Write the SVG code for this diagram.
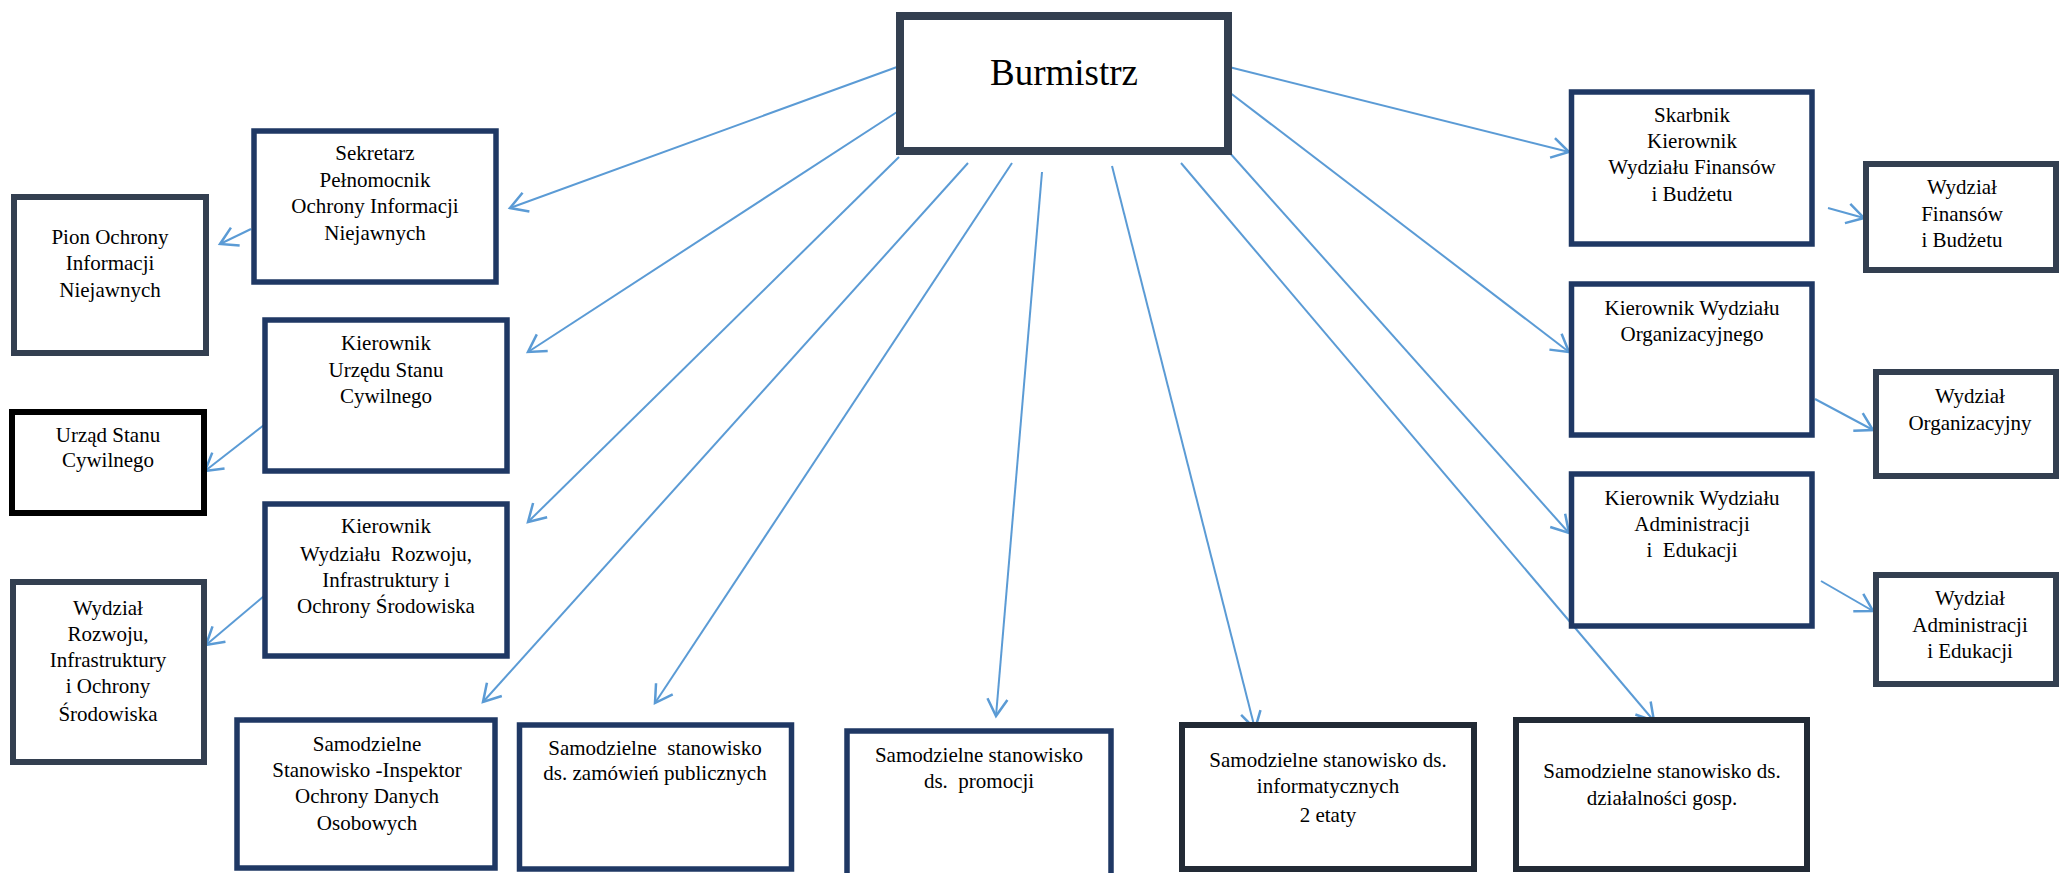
<svg xmlns="http://www.w3.org/2000/svg" width="2062" height="873" viewBox="0 0 2062 873">
<style>
.box{fill:#ffffff;}
.blue{stroke:#1f3864;stroke-width:5.5;}
.slate{stroke:#333f50;stroke-width:6;}
.dark{stroke:#222a35;stroke-width:6;}
.black{stroke:#000000;stroke-width:6;}
text{font-family:"Liberation Serif","Times New Roman",serif;font-size:21px;fill:#000000;text-anchor:middle;}
.big{font-size:37px;}
.conn line{stroke:#5b9bd5;stroke-width:2;marker-end:url(#arr);}
</style>
<defs>
<marker id="arr" markerUnits="userSpaceOnUse" viewBox="-22 -13 26 26" refX="0" refY="0" markerWidth="26" markerHeight="26" orient="auto">
<path d="M-17,-10 L0,0 L-17,10" fill="none" stroke="#5b9bd5" stroke-width="2.5" stroke-linejoin="miter"/>
</marker>
</defs>
<rect width="2062" height="873" fill="#ffffff"/>

<g id="connectors" class="conn">
<line x1="897" y1="67" x2="510" y2="208"/>
<line x1="897" y1="112" x2="528" y2="352"/>
<line x1="899" y1="157" x2="528" y2="522"/>
<line x1="968" y1="163" x2="483" y2="702"/>
<line x1="1012" y1="163" x2="655" y2="703"/>
<line x1="1042" y1="172" x2="996" y2="716"/>
<line x1="1112" y1="166" x2="1255" y2="729"/>
<line x1="1181" y1="163" x2="1654" y2="721"/>
<line x1="1229" y1="152" x2="1569" y2="533"/>
<line x1="1229" y1="92" x2="1569" y2="352"/>
<line x1="1229" y1="67" x2="1569" y2="152"/>
<line x1="251" y1="229" x2="220" y2="244"/>
<line x1="264" y1="425" x2="205" y2="471"/>
<line x1="264" y1="596" x2="206" y2="645"/>
<line x1="1828" y1="208" x2="1864" y2="218"/>
<line x1="1815" y1="399" x2="1873" y2="430"/>
<line x1="1821" y1="581" x2="1873" y2="611"/>
</g>

<g id="burmistrz">
<rect class="box" x="900" y="16" width="328" height="135" stroke="#333f50" stroke-width="8"/>
<text class="big" x="1064" y="85">Burmistrz</text>
</g>

<g id="sekretarz">
<rect class="box blue" x="254" y="131" width="242" height="151"/>
<text x="375" y="160">Sekretarz</text>
<text x="375" y="187">Pełnomocnik</text>
<text x="375" y="213">Ochrony Informacji</text>
<text x="375" y="240">Niejawnych</text>
</g>

<g id="pion">
<rect class="box slate" x="14" y="197" width="192" height="156"/>
<text x="110" y="244">Pion Ochrony</text>
<text x="110" y="270">Informacji</text>
<text x="110" y="297">Niejawnych</text>
</g>

<g id="kier-usc">
<rect class="box blue" x="265" y="320" width="242" height="151"/>
<text x="386" y="350">Kierownik</text>
<text x="386" y="377">Urzędu Stanu</text>
<text x="386" y="403">Cywilnego</text>
</g>

<g id="usc">
<rect class="box black" x="12" y="412" width="192" height="101"/>
<text x="108" y="442">Urząd Stanu</text>
<text x="108" y="467">Cywilnego</text>
</g>

<g id="kier-rozwoju">
<rect class="box blue" x="265" y="504" width="242" height="152"/>
<text x="386" y="533">Kierownik</text>
<text x="386" y="561" xml:space="preserve">Wydziału  Rozwoju,</text>
<text x="386" y="587">Infrastruktury i</text>
<text x="386" y="613">Ochrony Środowiska</text>
</g>

<g id="wydzial-rozwoju">
<rect class="box slate" x="13" y="582" width="191" height="180"/>
<text x="108" y="615">Wydział</text>
<text x="108" y="641">Rozwoju,</text>
<text x="108" y="667">Infrastruktury</text>
<text x="108" y="693">i Ochrony</text>
<text x="108" y="721">Środowiska</text>
</g>

<g id="inspektor">
<rect class="box blue" x="237" y="720" width="258" height="148"/>
<text x="367" y="751">Samodzielne</text>
<text x="367" y="777">Stanowisko -Inspektor</text>
<text x="367" y="803">Ochrony Danych</text>
<text x="367" y="830">Osobowych</text>
</g>

<g id="zamowienia">
<rect class="box blue" x="519.5" y="725" width="272" height="144"/>
<text x="655" y="755" xml:space="preserve">Samodzielne  stanowisko</text>
<text x="655" y="780">ds. zamówień publicznych</text>
</g>

<g id="promocja">
<rect class="box blue" x="847" y="731" width="264" height="150"/>
<text x="979" y="762">Samodzielne stanowisko</text>
<text x="979" y="788" xml:space="preserve">ds.  promocji</text>
</g>

<g id="informatyka">
<rect class="box dark" x="1182" y="725" width="292" height="144"/>
<text x="1328" y="767">Samodzielne stanowisko ds.</text>
<text x="1328" y="793">informatycznych</text>
<text x="1328" y="822">2 etaty</text>
</g>

<g id="dzialalnosc">
<rect class="box dark" x="1516" y="720" width="291" height="149"/>
<text x="1662" y="778">Samodzielne stanowisko ds.</text>
<text x="1662" y="805">działalności gosp.</text>
</g>

<g id="skarbnik">
<rect class="box blue" x="1571.5" y="92" width="240.5" height="152"/>
<text x="1692" y="122">Skarbnik</text>
<text x="1692" y="148">Kierownik</text>
<text x="1692" y="174">Wydziału Finansów</text>
<text x="1692" y="201">i Budżetu</text>
</g>

<g id="wydzial-finansow">
<rect class="box slate" x="1866" y="164" width="190" height="106"/>
<text x="1962" y="194">Wydział</text>
<text x="1962" y="221">Finansów</text>
<text x="1962" y="247">i Budżetu</text>
</g>

<g id="kier-org">
<rect class="box blue" x="1571.5" y="284" width="240.5" height="151"/>
<text x="1692" y="315">Kierownik Wydziału</text>
<text x="1692" y="341">Organizacyjnego</text>
</g>

<g id="wydzial-org">
<rect class="box slate" x="1876" y="372" width="180" height="104"/>
<text x="1970" y="403">Wydział</text>
<text x="1970" y="430">Organizacyjny</text>
</g>

<g id="kier-admin">
<rect class="box blue" x="1571.5" y="474" width="240.5" height="152"/>
<text x="1692" y="505">Kierownik Wydziału</text>
<text x="1692" y="531">Administracji</text>
<text x="1692" y="557" xml:space="preserve">i  Edukacji</text>
</g>

<g id="wydzial-admin">
<rect class="box slate" x="1876" y="575" width="180" height="109"/>
<text x="1970" y="605">Wydział</text>
<text x="1970" y="632">Administracji</text>
<text x="1970" y="658">i Edukacji</text>
</g>
</svg>
